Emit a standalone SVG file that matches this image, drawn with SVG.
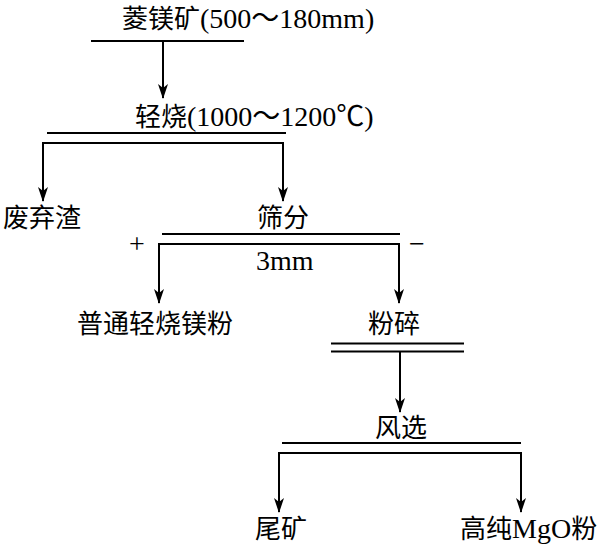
<svg xmlns="http://www.w3.org/2000/svg" width="600" height="548" viewBox="0 0 600 548">
<style>
  text { font-family: "Liberation Serif", "Noto Sans CJK SC", serif; font-size: 26px; fill: #000; }
  .lat { font-size: 28px; }
  .sg { font-size: 28px; text-anchor: middle; }
  .ln { stroke: #000; stroke-width: 2; fill: none; }
</style>
<defs>
  <marker id="ah" markerWidth="15" markerHeight="10" refX="14" refY="5" orient="auto" markerUnits="userSpaceOnUse" viewBox="0 0 15 10">
    <path d="M0,0 L15,5 L0,10 L4,5 Z" fill="#000"/>
  </marker>
</defs>
<rect width="600" height="548" fill="#fff"/>
<g id="n1"><text x="122" y="28">菱镁矿<tspan class="lat">(500～180mm)</tspan></text><line class="ln" x1="91" y1="41" x2="244" y2="41"/></g>
<g id="n2"><text x="135" y="126">轻烧<tspan class="lat">(1000～1200℃)</tspan></text><line class="ln" x1="47" y1="133" x2="286" y2="133"/></g>
<g id="n3"><text x="3" y="227">废弃渣</text></g>
<g id="n4"><text x="257" y="227">筛分</text><line class="ln" x1="162" y1="234" x2="400" y2="234"/><text class="sg" x="137" y="253">+</text><text class="sg" x="417" y="253">−</text><text x="256" y="270" class="lat">3mm</text></g>
<g id="n5"><text x="77" y="333">普通轻烧镁粉</text></g>
<g id="n6"><text x="368" y="333">粉碎</text><line class="ln" x1="331" y1="343.5" x2="464" y2="343.5"/><line class="ln" x1="331" y1="351.5" x2="464" y2="351.5"/></g>
<g id="n7"><text x="375" y="437">风选</text><line class="ln" x1="282" y1="443" x2="521" y2="443"/></g>
<g id="n8"><text x="255" y="538">尾矿</text></g>
<g id="n9"><text x="460" y="538">高纯<tspan class="lat">MgO</tspan>粉</text></g>
<g id="connectors">
  <line class="ln" x1="163" y1="41" x2="163" y2="98" marker-end="url(#ah)"/>
  <line class="ln" x1="42" y1="143" x2="284" y2="143"/>
  <line class="ln" x1="43" y1="143" x2="43" y2="201" marker-end="url(#ah)"/>
  <line class="ln" x1="283" y1="143" x2="283" y2="201" marker-end="url(#ah)"/>
  <line class="ln" x1="158" y1="244" x2="400" y2="244"/>
  <line class="ln" x1="159" y1="244" x2="159" y2="303" marker-end="url(#ah)"/>
  <line class="ln" x1="399" y1="244" x2="399" y2="303" marker-end="url(#ah)"/>
  <line class="ln" x1="400" y1="352" x2="400" y2="412" marker-end="url(#ah)"/>
  <line class="ln" x1="278" y1="453" x2="522" y2="453"/>
  <line class="ln" x1="279" y1="453" x2="279" y2="512" marker-end="url(#ah)"/>
  <line class="ln" x1="521" y1="453" x2="521" y2="512" marker-end="url(#ah)"/>
</g>
</svg>
